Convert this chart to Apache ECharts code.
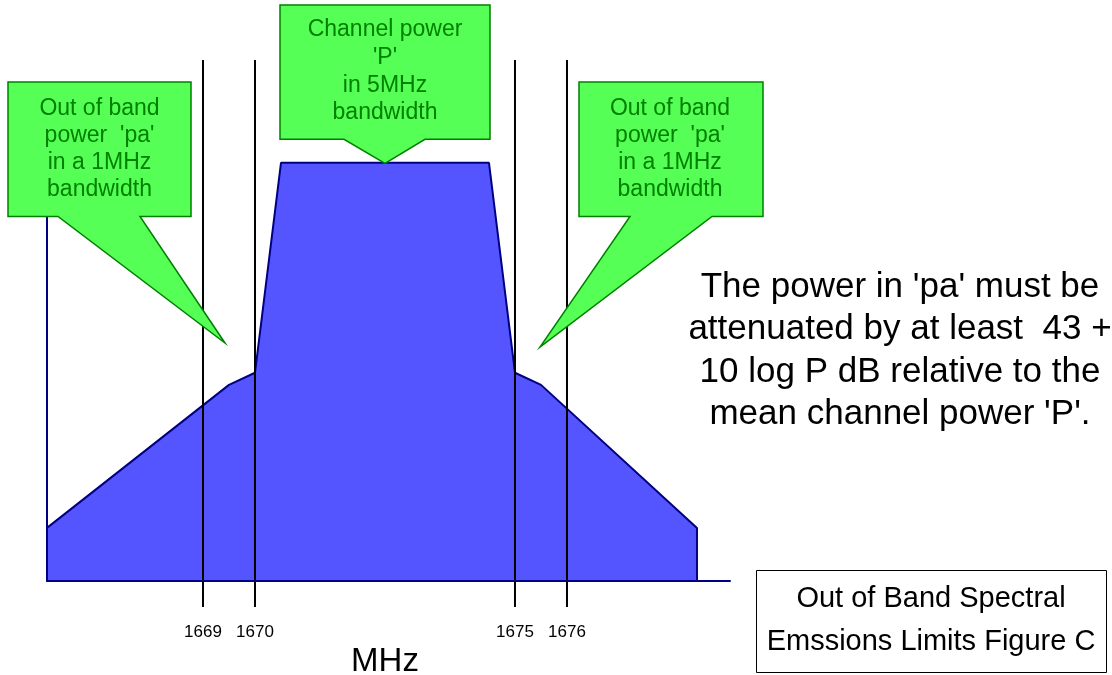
<!DOCTYPE html>
<html>
<head>
<meta charset="utf-8">
<script src="https://cdn.jsdelivr.net/npm/echarts@6/dist/echarts.min.js"></script>
<style>
html,body{margin:0;padding:0;background:#fff;}
#chart{width:1112px;height:675px;}
</style>
</head>
<body>
<div id="chart"></div>
<script>
// ---- data ----
const spectrumMHz   = [1666, 1669.5, 1670, 1670.5, 1674.5, 1675, 1675.5, 1678.5, 1678.5];
const spectrumLevel = [12.7, 46.9,   49.8, 100,    100,    49.8, 46.9,   12.7,   0];
const limitLinesMHz = [1669, 1670, 1675, 1676];
const tickLabels    = [1669, 1670, 1675, 1676];
const axisName = 'MHz';
const calloutLeftText   = "Out of band\npower  'pa'\nin a 1MHz\nbandwidth";
const calloutCenterText = "Channel power\n'P'\nin 5MHz\nbandwidth";
const calloutRightText  = "Out of band\npower  'pa'\nin a 1MHz\nbandwidth";
const noteText  = "The power in 'pa' must be\nattenuated by at least  43 +\n10 log P dB relative to the\nmean channel power 'P'.";
const titleText = "Out of Band Spectral\nEmssions Limits Figure C";

const FONT = '"Liberation Sans", Arial, sans-serif';
const chart = echarts.init(document.getElementById('chart'), null, {renderer: 'canvas'});

const green = '#55FF55', greenStroke = '#008000', greenText = '#008000';

const option = {
  animation: false,
  backgroundColor: '#ffffff',
  textStyle: {fontFamily: FONT},
  grid: {left: 47, right: 382, top: 121, bottom: 94, containLabel: false, outerBoundsMode: 'none'},
  xAxis: {
    type: 'value', min: 1666, max: 1679.135, z: 10,
    axisLine: {show: true, onZero: false, lineStyle: {color: '#000080', width: 2}},
    axisTick: {show: false},
    splitLine: {show: false},
    axisLabel: {customValues: tickLabels, margin: 43, fontSize: 17, color: '#000', fontFamily: FONT,
                hideOverlap: false, formatter: v => String(v)},
    name: axisName, nameLocation: 'middle', nameGap: 60,
    nameTextStyle: {fontSize: 33, color: '#000', fontFamily: FONT, padding: [0, 7, 0, 0]}
  },
  yAxis: {
    type: 'value', min: 0, max: 110, z: 10,
    axisLine: {show: true, lineStyle: {color: '#000080', width: 2}},
    axisTick: {show: false}, axisLabel: {show: false}, splitLine: {show: false}
  },
  series: [
    {
      type: 'line', z: 2, symbol: 'none', silent: true,
      data: spectrumMHz.map((x, i) => [x, spectrumLevel[i]]),
      lineStyle: {color: '#000080', width: 2},
      areaStyle: {color: '#5555FF', opacity: 1}
    },
    {
      type: 'custom', z: 5, silent: true, clip: false,
      data: limitLinesMHz.map(v => [v, 0]),
      renderItem: function (params, api) {
        const p = api.coord([api.value(0), 0]);
        return {type: 'line', shape: {x1: p[0], y1: 60, x2: p[0], y2: p[1] + 26},
                style: {stroke: '#000', lineWidth: 2}};
      }
    }
  ],
  graphic: [
    {type: 'polygon', z: 100, silent: true,
     shape: {points: [[8,82],[191,82],[191,216.5],[140,216.5],[225,343],[58,216.5],[8,216.5]]},
     style: {fill: green, stroke: greenStroke, lineWidth: 1.5}},
    {type: 'text', z: 101, silent: true, x: 99.5, y: 149.5,
     style: {text: calloutLeftText, font: '23px ' + FONT, fill: greenText, align: 'center', verticalAlign: 'middle', lineHeight: 27}},
    {type: 'polygon', z: 100, silent: true,
     shape: {points: [[280,5],[490,5],[490,139.3],[425,139.3],[385,163.3],[344,139.3],[280,139.3]]},
     style: {fill: green, stroke: greenStroke, lineWidth: 1.5}},
    {type: 'text', z: 101, silent: true, x: 385, y: 71.5,
     style: {text: calloutCenterText, font: '23px ' + FONT, fill: greenText, align: 'center', verticalAlign: 'middle', lineHeight: 27.6}},
    {type: 'polygon', z: 100, silent: true,
     shape: {points: [[579,82],[763,82],[763,216.5],[712,216.5],[540,347],[630,216.5],[579,216.5]]},
     style: {fill: green, stroke: greenStroke, lineWidth: 1.5}},
    {type: 'text', z: 101, silent: true, x: 670, y: 149.5,
     style: {text: calloutRightText, font: '23px ' + FONT, fill: greenText, align: 'center', verticalAlign: 'middle', lineHeight: 27}},
    {type: 'text', z: 101, silent: true, x: 900, y: 351,
     style: {text: noteText, font: '35px ' + FONT, fill: '#000', align: 'center', verticalAlign: 'middle', lineHeight: 42.4}},
    {type: 'rect', z: 100, silent: true,
     shape: {x: 756.5, y: 570.5, width: 350, height: 102},
     style: {fill: '#fff', stroke: '#000', lineWidth: 1}},
    {type: 'text', z: 101, silent: true, x: 931, y: 620.5,
     style: {text: titleText, font: '29px ' + FONT, fill: '#000', align: 'center', verticalAlign: 'middle', lineHeight: 43}}
  ]
};
chart.setOption(option);
</script>
</body>
</html>
